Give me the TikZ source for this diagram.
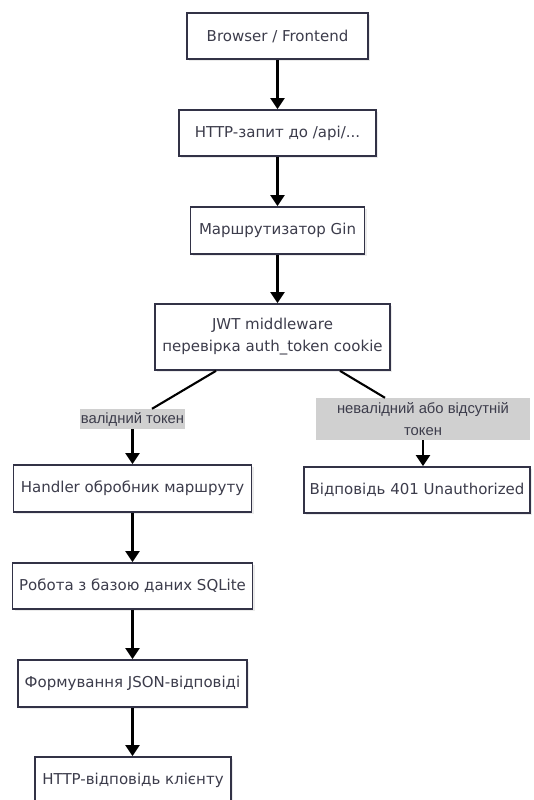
\documentclass[tikz,border=0pt]{standalone}
\usepackage{fontspec}
\setmainfont{DejaVu Sans}
\newfontfamily\labelfont{Liberation Sans}
\usetikzlibrary{arrows.meta,shadows}
\definecolor{boxline}{RGB}{50,50,70}
\definecolor{boxtext}{RGB}{60,60,75}
\definecolor{lblbg}{RGB}{208,208,208}
\tikzset{
  procbox/.style={draw=boxline, line width=1.7pt, fill=white, text=boxtext,
    inner sep=0pt, align=center, font=\fontsize{15}{22}\selectfont,
    drop shadow={shadow xshift=2pt, shadow yshift=-2pt, fill=black, opacity=0.08}},
  edgelbl/.style={fill=lblbg, text=boxtext, inner sep=0pt, align=center,
    font=\labelfont\fontsize{14.8}{22}\selectfont},
  flow/.style={line width=2.1pt, -{Triangle[length=11pt,width=14pt]}},
  link/.style={line width=2.1pt}
}
\begin{document}
\begin{tikzpicture}[x=1pt,y=-1pt]
  \useasboundingbox (0,0) rectangle (533,800);
  \fill[white] (0,0) rectangle (533,800);

  % main chain
  \node[procbox, minimum width=181pt, minimum height=46pt] (browser) at (277.5,36) {Browser / Frontend};
  \node[procbox, minimum width=197pt, minimum height=46pt] (request) at (277.5,133) {HTTP-запит до /api/...};
  \node[procbox, minimum width=174pt, minimum height=47pt] (router) at (277.5,230.5) {Маршрутизатор Gin};
  \node[procbox, minimum width=235pt, minimum height=66pt] (jwt) at (272.5,337) {JWT middleware\\перевірка auth\_token cookie};

  % branch labels
  \node[edgelbl, minimum width=105pt, minimum height=20pt] (okl) at (132.5,419) {валідний токен};
  \node[edgelbl, minimum width=214pt, minimum height=42pt] (badl) at (423,419) {невалідний або відсутній\\токен};

  % valid path
  \node[procbox, minimum width=238pt, minimum height=47pt] (handler) at (132.5,488.5) {Handler обробник маршруту};
  \node[procbox, minimum width=240pt, minimum height=46pt] (db) at (132.5,586) {Робота з базою даних SQLite};
  \node[procbox, minimum width=229pt, minimum height=47pt] (json) at (132.5,683.5) {Формування JSON-відповіді};
  \node[procbox, minimum width=196pt, minimum height=47pt] (reply) at (133,780.5) {HTTP-відповідь клієнту};

  % rejected path
  \node[procbox, minimum width=226pt, minimum height=46pt] (deny) at (417,490) {Відповідь 401 Unauthorized};

  % connectors
  \draw[flow] (browser) -- (request);
  \draw[flow] (request) -- (router);
  \draw[flow] (router) -- (router |- jwt.north);
  \draw[link] ([xshift=-56.5pt]jwt.south) -- ([xshift=19.5pt]okl.north);
  \draw[flow] (okl) -- (handler);
  \draw[link] ([xshift=67.5pt]jwt.south) -- ([xshift=-38pt]badl.north);
  \draw[flow] (badl.south) -- (badl.south |- deny.north);
  \draw[flow] (handler) -- (db);
  \draw[flow] (db) -- (json);
  \draw[flow] (json) -- (json |- reply.north);
\end{tikzpicture}
\end{document}
